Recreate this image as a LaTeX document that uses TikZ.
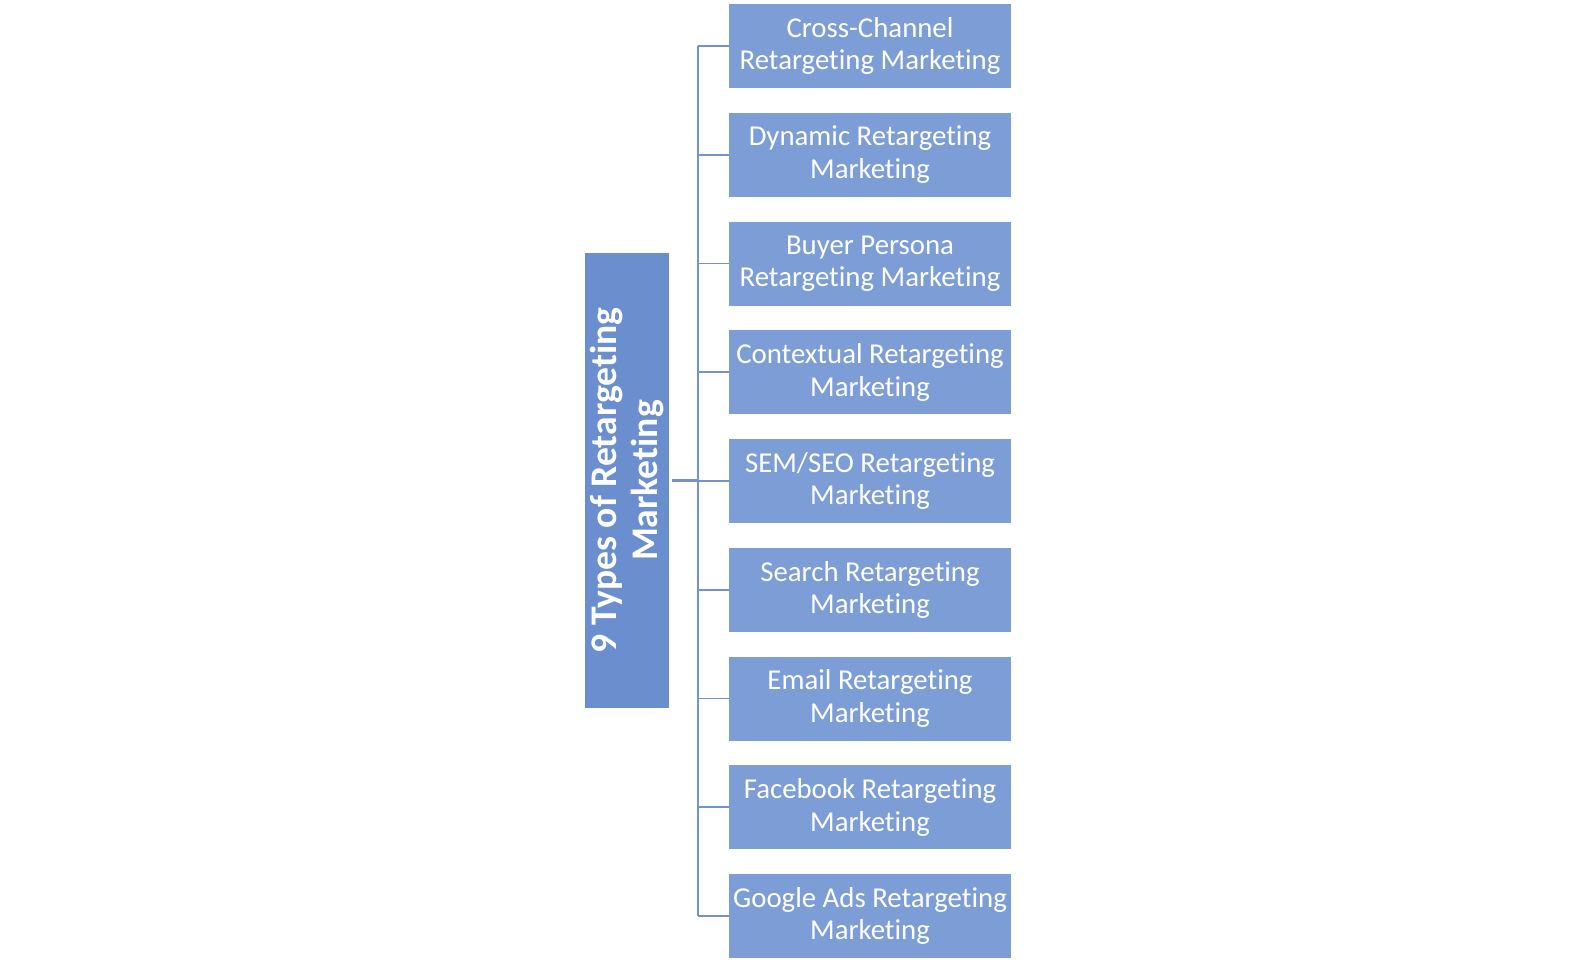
\documentclass[tikz,border=0pt]{standalone}
\usepackage{fontspec}
\setmainfont{Carlito}[Ligatures={NoCommon,NoDiscretionary,NoContextual}]
\definecolor{rootfill}{RGB}{106,142,206}
\definecolor{childfill}{RGB}{124,157,213}
\definecolor{linecol}{RGB}{116,146,208}
\begin{document}
\begin{tikzpicture}[x=0.75pt,y=-0.75pt,
  child/.style={fill=childfill,draw=none,minimum width=211.5pt,minimum height=63pt,inner sep=0pt,
    text=white,align=center,font=\fontsize{21.6}{24.4}\selectfont},
  rootbox/.style={fill=rootfill,draw=none,minimum width=63pt,minimum height=341pt,inner sep=0pt},
  conn/.style={draw=linecol,line width=1.4pt}]
\useasboundingbox (0,0) rectangle (1595,965);
\node[rootbox] (root) at (627,480.5) {};
\node[rotate=90,text=white,align=center,font=\bfseries\fontsize{28.2}{30.5}\selectfont] (roottext) at (root.center) {9 Types of Retargeting\\Marketing};
\node[child] (c1) at (870,46) {Cross-Channel\\Retargeting Marketing};
\node[child] (c2) at (870,154.75) {Dynamic Retargeting\\Marketing};
\node[child] (c3) at (870,263.5) {Buyer Persona\\Retargeting Marketing};
\node[child] (c4) at (870,372.25) {Contextual Retargeting\\Marketing};
\node[child] (c5) at (870,481) {SEM/SEO Retargeting\\Marketing};
\node[child] (c6) at (870,589.75) {Search Retargeting\\Marketing};
\node[child] (c7) at (870,698.5) {Email Retargeting\\Marketing};
\node[child] (c8) at (870,807.25) {Facebook Retargeting\\Marketing};
\node[child] (c9) at (870,916) {Google Ads Retargeting\\Marketing};
\coordinate (j) at ([xshift=21.75pt]root.east);
\draw[conn,line width=2pt] ([xshift=2.25pt]root.east) -- (j);
\draw[conn] (j |- c1.west) -- (j |- c9.west);
\foreach \i in {1,...,9}{
  \draw[conn] (j |- c\i.west) -- (c\i.west);
}
\end{tikzpicture}
\end{document}
